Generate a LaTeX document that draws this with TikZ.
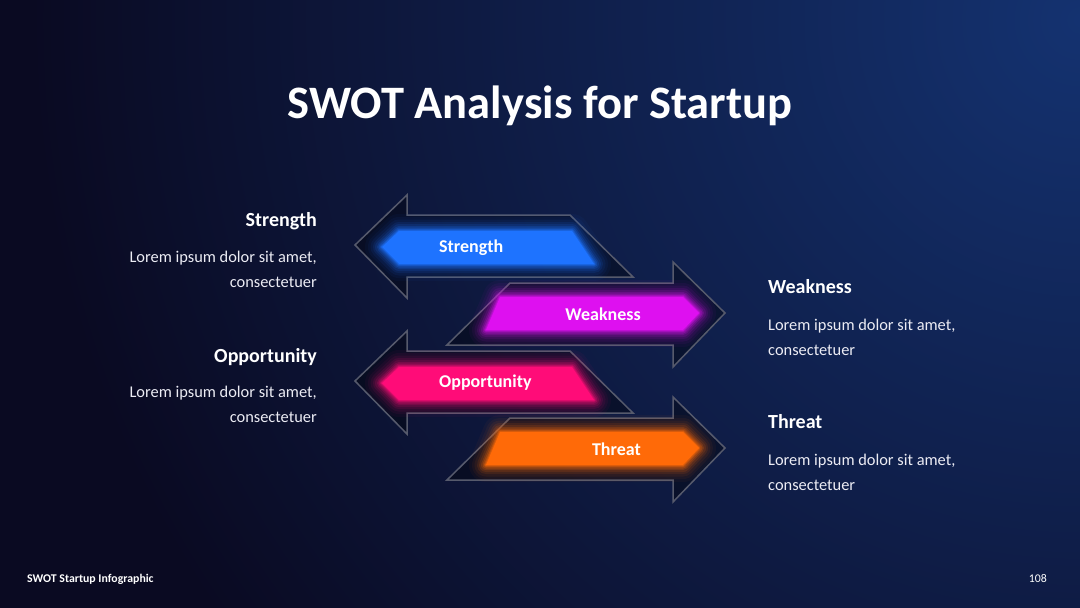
\documentclass[tikz,border=0pt]{standalone}
\usepackage{fontspec}
\setmainfont{Carlito}
\definecolor{bgdark}{RGB}{10,10,34}
\definecolor{bgblue}{RGB}{20,50,112}
\definecolor{rimgray}{RGB}{86,90,108}
\definecolor{swotblue}{RGB}{30,115,255}
\definecolor{swotmagenta}{RGB}{222,16,240}
\definecolor{swotpink}{RGB}{255,12,120}
\definecolor{swotorange}{RGB}{255,106,8}
\definecolor{bodytext}{RGB}{236,236,244}
% glowing band: colour, path
\newcommand{\glowband}[2]{%
  \foreach \w/\o in {34/0.04, 28/0.05, 23/0.07, 18/0.1, 14/0.13, 10/0.18, 7/0.24, 4/0.32, 2/0.45}{
    \draw[#1, line width=\w pt, opacity=\o, line join=round] #2;
  }
  \fill[#1] #2;
}
\begin{document}
\begin{tikzpicture}[x=1pt, y=-1pt,
    rim/.style={draw=rimgray, line width=1.5pt, fill=black, fill opacity=0.35},
    title/.style={font=\fontsize{46.5}{52}\selectfont\bfseries, text=white, inner sep=0pt},
    head/.style={font=\fontsize{20}{24}\selectfont\bfseries, text=white, inner sep=0pt},
    body/.style={font=\fontsize{16.4}{25}\selectfont, text=bodytext, inner sep=0pt},
    lbl/.style={font=\fontsize{18}{22}\selectfont\bfseries, text=white, inner sep=0pt},
    foot/.style={font=\fontsize{11.8}{14}\selectfont, text=white, inner sep=0pt}]
  % Background
  \fill[bgdark] (0,0) rectangle (1080,608);
  \begin{scope}
    \clip (0,0) rectangle (1080,608);
    \shade[inner color=bgblue, outer color=bgdark] (1080,20) circle (1050);
  \end{scope}
  \useasboundingbox (0,0) rectangle (1080,608);
  % Title
  \node[title, anchor=base] (title) at (540,118) {SWOT Analysis for Startup};
  % Arrow outlines
  \path[rim] (355,245) -- (407,195) -- (407,215) -- (570,215) -- (633,277)
    -- (407,277) -- (407,298) -- cycle;
  \path[rim] (725,313) -- (673,262) -- (673,283) -- (510,283) -- (447,345)
    -- (673,345) -- (673,367) -- cycle;
  \path[rim] (355,381) -- (407,331) -- (407,351) -- (570,351) -- (633,413)
    -- (407,413) -- (407,434) -- cycle;
  \path[rim] (725,448) -- (673,397) -- (673,418) -- (510,418) -- (447,480)
    -- (673,480) -- (673,502) -- cycle;
  % Glowing bands
  \glowband{swotblue}{(382,247) -- (399,231) -- (572,231) -- (594,264) -- (399,264) -- cycle}
  \glowband{swotmagenta}{(699,313) -- (683,297) -- (500,297) -- (486,330) -- (683,330) -- cycle}
  \glowband{swotpink}{(382,383) -- (399,367) -- (572,367) -- (594,400) -- (399,400) -- cycle}
  \glowband{swotorange}{(699,448) -- (683,432) -- (500,432) -- (486,465) -- (683,465) -- cycle}
  % Band labels
  \node[lbl, anchor=base west] (strlbl) at (439,252) {Strength};
  \node[lbl, anchor=base east] (weaklbl) at (641,320) {Weakness};
  \node[lbl, anchor=base west] (opplbl) at (439,387) {Opportunity};
  \node[lbl, anchor=base east] (thrlbl) at (641,455) {Threat};
  % Left texts
  \node[head, anchor=base east] (strhead) at (317,226) {Strength};
  \node[body, align=right, anchor=base east] (strbody) at (317,287)
    {Lorem ipsum dolor sit amet,\\consectetuer};
  \node[head, anchor=base east] (opphead) at (317,362) {Opportunity};
  \node[body, align=right, anchor=base east] (oppbody) at (317,422)
    {Lorem ipsum dolor sit amet,\\consectetuer};
  % Right texts
  \node[head, anchor=base west] (weakhead) at (768,293) {Weakness};
  \node[body, align=left, anchor=base west] (weakbody) at (768,355)
    {Lorem ipsum dolor sit amet,\\consectetuer};
  \node[head, anchor=base west] (thrhead) at (768,428) {Threat};
  \node[body, align=left, anchor=base west] (thrbody) at (768,490)
    {Lorem ipsum dolor sit amet,\\consectetuer};
  % Footer
  \node[foot, anchor=base west, font=\fontsize{11.8}{14}\selectfont\bfseries] (footer) at (27,582) {SWOT Startup Infographic};
  \node[foot, anchor=base east] (pagenum) at (1047,582) {108};
\end{tikzpicture}
\end{document}
